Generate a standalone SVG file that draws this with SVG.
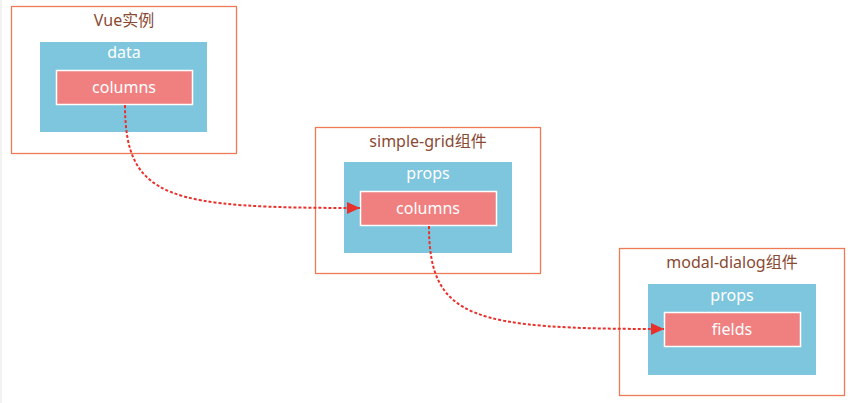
<svg xmlns="http://www.w3.org/2000/svg" width="854" height="403" viewBox="0 0 854 403">
<defs>
<style>
.outer{fill:#fff;stroke:#ee7b55;stroke-width:1.3}
.blue{fill:#7ec6de}
.pink{fill:#f08080;stroke:#fff;stroke-width:1.5}
.title{font-family:"Noto Sans","Noto Sans CJK SC",sans-serif;font-size:16px;fill:#8a4a32;text-anchor:middle}
.lbl{font-family:"Noto Sans","Noto Sans CJK SC",sans-serif;font-size:16px;fill:#fff;text-anchor:middle}
.conn{fill:none;stroke:#e8312b;stroke-width:2;stroke-dasharray:3 2}
</style>
<marker id="arr" viewBox="0 0 10 10" refX="10" refY="5" markerWidth="6.5" markerHeight="6" markerUnits="strokeWidth" orient="auto" preserveAspectRatio="none">
<path d="M0,0 L10,5 L0,10 z" fill="#e8312b"/>
</marker>
</defs>
<rect width="854" height="403" fill="#fff"/>
<line x1="1" y1="0" x2="1" y2="403" stroke="#e6e6e6" stroke-width="1"/>
<g id="vue">
<rect class="outer" x="11.5" y="6.5" width="225" height="147"/>
<text class="title" x="124" y="26">Vue实例</text>
<rect class="blue" x="40" y="42" width="167" height="90"/>
<text class="lbl" x="124" y="58">data</text>
<rect class="pink" x="56.5" y="70.5" width="136" height="34"/>
<text class="lbl" x="124" y="93">columns</text>
</g>
<g id="grid">
<rect class="outer" x="315.5" y="127.5" width="225" height="146"/>
<text class="title" x="428" y="147">simple-grid组件</text>
<rect class="blue" x="344" y="162" width="168" height="91"/>
<text class="lbl" x="428" y="179">props</text>
<rect class="pink" x="360.5" y="191.5" width="136" height="34"/>
<text class="lbl" x="428" y="214">columns</text>
</g>
<g id="dialog">
<rect class="outer" x="619.5" y="248.5" width="225" height="147"/>
<text class="title" x="732" y="268">modal-dialog组件</text>
<rect class="blue" x="648" y="284" width="168" height="91"/>
<text class="lbl" x="732" y="301">props</text>
<rect class="pink" x="664.5" y="312.5" width="136" height="34"/>
<text class="lbl" x="732" y="335">fields</text>
</g>
<g id="connectors">
<path class="conn" d="M125,105 C125,200 170,208 360,208" marker-end="url(#arr)"/>
<path class="conn" d="M429,226 C429,320 474,329 664,329" marker-end="url(#arr)"/>
</g>
</svg>
